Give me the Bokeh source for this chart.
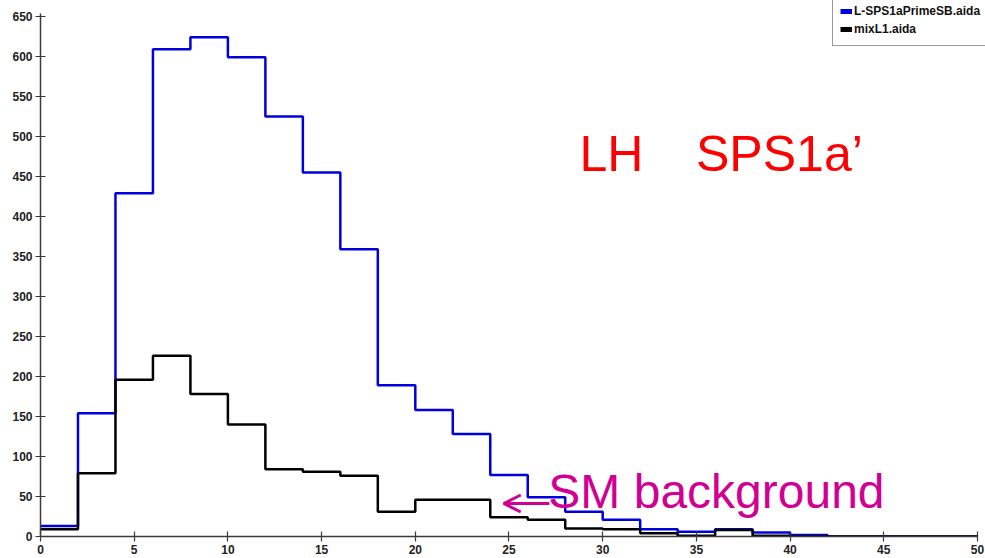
from bokeh.plotting import figure
from bokeh.models import Range1d, Legend, LegendItem, Label, FixedTicker, Arrow, OpenHead
from bokeh.embed import file_html
from bokeh.resources import INLINE

# Histogram bin edges (2 GeV wide bins from 0 to 50)
bin_edges = [0, 2, 4, 6, 8, 10, 12, 14, 16, 18, 20, 22, 24, 26, 28, 30,
             32, 34, 36, 38, 40, 42, 44, 46, 48, 50]

# Entries per bin: signal sample
signal_counts = [13, 154, 429, 609, 624, 599, 525, 455, 359, 189, 158, 128, 77,
                 49, 31, 21, 9, 6, 9, 5, 2, 0, 0, 0, 0]

# Entries per bin: SM background sample
background_counts = [9, 79, 196, 226, 178, 140, 84, 81, 76, 31, 46, 46, 24,
                     21, 10, 9, 4, 1, 8, 1, 0, 0, 0, 0, 0]

signal_name = "L-SPS1aPrimeSB.aida"
background_name = "mixL1.aida"

x_ticks = [0, 5, 10, 15, 20, 25, 30, 35, 40, 45, 50]
y_ticks = [0, 50, 100, 150, 200, 250, 300, 350, 400, 450, 500, 550, 600, 650]

BLUE = "#0000DD"
MAGENTA = "#D10092"
FONT = "Liberation Sans"

# The frame runs to the top and right edges of the page so the legend box
# can sit in the corner; the axis lines are bounded to the data extent.
p = figure(width=985, height=558, output_backend="svg", toolbar_location=None,
           x_range=Range1d(0, 50.427), y_range=Range1d(0, 670),
           min_border_left=40, min_border_right=0, min_border_top=0,
           min_border_bottom=22)
p.outline_line_color = None
p.xgrid.visible = False
p.ygrid.visible = False
p.background_fill_color = "white"
p.border_fill_color = "white"

for ax, ticks in ((p.xaxis[0], x_ticks), (p.yaxis[0], y_ticks)):
    ax.ticker = FixedTicker(ticks=ticks)
    ax.axis_line_color = "#3a3a3a"
    ax.axis_line_width = 1.5
    ax.major_tick_line_color = "#3a3a3a"
    ax.major_tick_line_width = 1.2
    ax.major_tick_in = 5
    ax.major_tick_out = 5
    ax.minor_tick_line_color = None
    ax.major_label_standoff = 3
    ax.major_label_text_font = FONT
    ax.major_label_text_font_size = "12px"
    ax.major_label_text_font_style = "bold"
    ax.major_label_text_color = "#222222"
p.xaxis[0].bounds = (0, 50)
p.yaxis[0].bounds = (0, 654)

# Step outlines of both histograms (last bin value repeated at the right edge)
sig_y = signal_counts + [signal_counts[-1]]
bkg_y = background_counts + [background_counts[-1]]
p.step(bin_edges, sig_y, mode="after", line_color=BLUE, line_width=2.5)
p.step(bin_edges, bkg_y, mode="after", line_color="black", line_width=2.5)

# Legend swatches (a single undrawn point each, so only the key shows)
nan = float("nan")
sig_key = p.line([nan], [nan], line_color=BLUE, line_width=5)
bkg_key = p.line([nan], [nan], line_color="black", line_width=5)
legend = Legend(items=[LegendItem(label=signal_name, renderers=[sig_key]),
                       LegendItem(label=background_name, renderers=[bkg_key])],
                location=(792, 490), orientation="vertical",
                padding=7, spacing=0, margin=0,
                glyph_width=12, glyph_height=18, label_height=18,
                label_width=140, label_standoff=2,
                label_text_font=FONT, label_text_font_size="12px",
                label_text_font_style="bold", label_text_color="#111111",
                border_line_color="#333333", border_line_width=1,
                background_fill_color="white", background_fill_alpha=1.0)
p.add_layout(legend, "center")

p.add_layout(Label(x=28.76, y=443.75, text="LH", text_color="#FF0000",
                   text_font=FONT, text_font_size="50px"))
p.add_layout(Label(x=34.98, y=443.75, text="SPS1a\u2019", text_color="#FF0000",
                   text_font=FONT, text_font_size="50px"))
p.add_layout(Label(x=27.10, y=23.75, text="SM background", text_color=MAGENTA,
                   text_font=FONT, text_font_size="48px"))
p.add_layout(Arrow(x_start=27.15, y_start=41.25, x_end=24.72, y_end=41.25,
                   line_color=MAGENTA, line_width=3,
                   end=OpenHead(size=17, line_color=MAGENTA, line_width=3)))

open("out.html", "w").write(file_html(p, INLINE))
